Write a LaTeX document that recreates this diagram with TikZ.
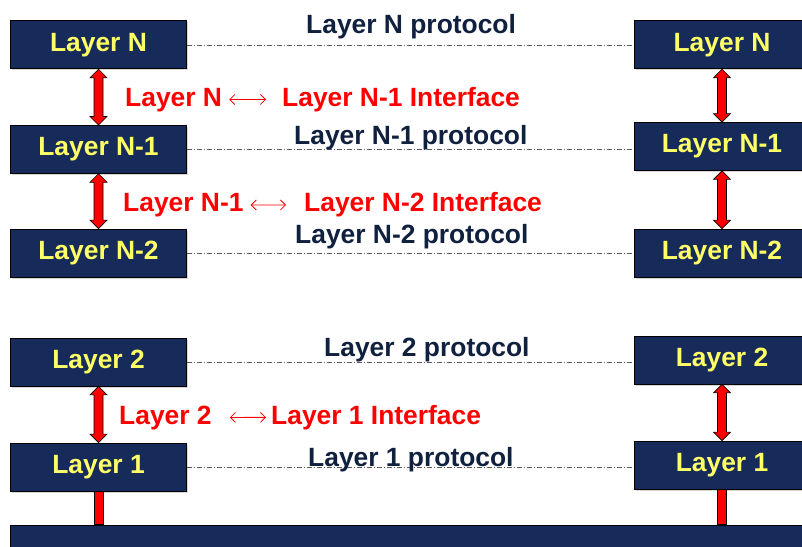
\documentclass[tikz,border=0pt]{standalone}
\usepackage{fontspec}
\setmainfont{Liberation Sans}
\usetikzlibrary{arrows.meta,calc,shadows}
\definecolor{boxblue}{HTML}{172B5A}
\definecolor{labelyellow}{HTML}{FFFF66}
\definecolor{protonavy}{HTML}{10203F}
\tikzset{every node/.style={font=\fontsize{26.4}{30}\selectfont\bfseries}}
\tikzstyle{layer} = [rectangle, draw=black, line width=0.8pt, fill=boxblue,
    text=labelyellow, minimum width=176pt, minimum height=48pt, inner sep=0pt,
    drop shadow={shadow xshift=1.5pt, shadow yshift=-1.5pt, opacity=0.3}]
\tikzstyle{proto} = [text=protonavy, anchor=base west, inner sep=0pt]
\tikzstyle{iface} = [text=red, anchor=base west, inner sep=0pt]
\tikzstyle{peer} = [draw=gray!70!black, line width=0.6pt,
    dash pattern=on 5pt off 2pt on 1pt off 2pt]
\tikzstyle{ifline} = [draw=red, line width=0.8pt,
    {Straight Barb[length=5pt,width=10pt]}-{Straight Barb[length=5pt,width=10pt]}]
\tikzstyle{fat} = [fill=red, draw=black, line width=0.6pt]
\newcommand{\fatarrow}[2]{%
  \path[fat] let \p1=(#1.south), \p2=(#2.north) in
    (\x1,\y1) -- ({\x1+8.5pt},{\y1-8.5pt}) -- ({\x1+4.5pt},{\y1-8.5pt})
    -- ({\x1+4.5pt},{\y2+8.5pt}) -- ({\x1+8.5pt},{\y2+8.5pt}) -- (\x1,\y2)
    -- ({\x1-8.5pt},{\y2+8.5pt}) -- ({\x1-4.5pt},{\y2+8.5pt})
    -- ({\x1-4.5pt},{\y1-8.5pt}) -- ({\x1-8.5pt},{\y1-8.5pt}) -- cycle;}
\newcommand{\shaft}[2]{%
  \path[fat] let \p1=(#1.south), \p2=(#2.north) in
    ({\x1-4.5pt},\y1) rectangle ({\x1+4.5pt},\y2);}

\begin{document}
\begin{tikzpicture}[x=1pt, y=-1pt]
    \clip (0,0) rectangle (802,546);
    \fill[white] (0,0) rectangle (802,546);
    \node [layer] (lN) at (98.5,44.8) {Layer N};
    \node [layer] (lNa) at (98.5,149.4) {Layer N-1};
    \node [layer] (lNb) at (98.5,253) {Layer N-2};
    \node [layer] (l2) at (98.5,362) {Layer 2};
    \node [layer] (l1) at (98.5,467) {Layer 1};
    \node [layer] (rN) at (722,44.8) {Layer N};
    \node [layer] (rNa) at (722,146.5) {Layer N-1};
    \node [layer] (rNb) at (722,253) {Layer N-2};
    \node [layer] (r2) at (722,360) {Layer 2};
    \node [layer] (r1) at (722,465) {Layer 1};
    \node [layer, minimum width=800pt, minimum height=50pt] (phys) at (410,550) {};
    \path [peer] (lN.east) -- (lN.east -| rN.west);
    \path [peer] (lNa.east) -- (lNa.east -| rNa.west);
    \path [peer] (lNb.east) -- (lNb.east -| rNb.west);
    \path [peer] (l2.east) -- (l2.east -| r2.west);
    \path [peer] (l1.east) -- (l1.east -| r1.west);
    \node [proto] (pN) at (306,33) {Layer N protocol};
    \node [proto] (pNa) at (294,144) {Layer N-1 protocol};
    \node [proto] (pNb) at (295,243) {Layer N-2 protocol};
    \node [proto] (p2) at (324,356) {Layer 2 protocol};
    \node [proto] (p1) at (308,466.5) {Layer 1 protocol};
    \node [iface] (ifNa) at (125,106) {Layer N};
    \node [iface] (ifNb) at (282,106) {Layer N-1 Interface};
    \node [iface] (ifNc) at (123,211.5) {Layer N-1};
    \node [iface] (ifNd) at (304,211.5) {Layer N-2 Interface};
    \node [iface] (if2) at (119,424) {Layer 2};
    \node [iface] (if1) at (271,424) {Layer 1 Interface};
    \path [ifline, shorten <=7pt, shorten >=16pt] (ifNa) -- (ifNb);
    \path [ifline, shorten <=7pt, shorten >=18pt] (ifNc) -- (ifNd);
    \path [ifline, shorten <=18pt, shorten >=5pt] (if2) -- (if1);
    \fatarrow{lN}{lNa}
    \fatarrow{lNa}{lNb}
    \fatarrow{l2}{l1}
    \fatarrow{rN}{rNa}
    \fatarrow{rNa}{rNb}
    \fatarrow{r2}{r1}
    \shaft{l1}{phys}
    \shaft{r1}{phys}
\end{tikzpicture}
\end{document}
